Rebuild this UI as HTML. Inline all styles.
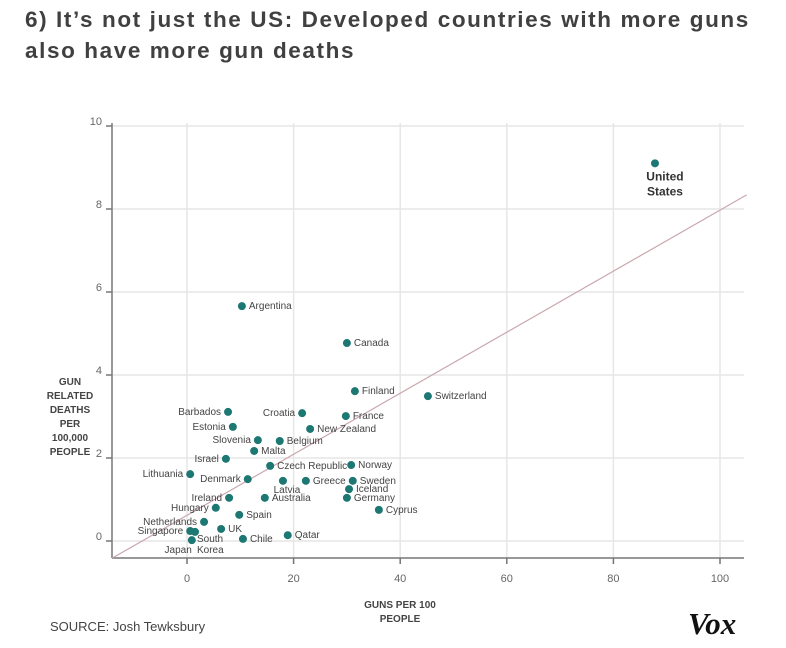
<!DOCTYPE html>
<html><head><meta charset="utf-8"><style>
body{margin:0;background:#fff;width:786px;height:648px;overflow:hidden;font-family:"Liberation Sans",sans-serif}
h1{position:absolute;left:25px;top:4px;margin:0;font-size:22.5px;letter-spacing:1.6px;line-height:31px;color:#404040;font-weight:bold;white-space:nowrap}
svg{position:absolute;left:0;top:0}
</style></head><body>
<h1>6) It’s not just the US: Developed countries with more guns<br>also have more gun deaths</h1>
<svg id="chart" width="786" height="648"></svg>
<script>
const countries=["United States","Argentina","Canada","Finland","Switzerland","Barbados","Croatia","France","Estonia","New Zealand","Slovenia","Belgium","Malta","Israel","Czech Republic","Norway","Lithuania","Denmark","Latvia","Greece","Sweden","Iceland","Ireland","Australia","Germany","Cyprus","Hungary","Spain","Netherlands","UK","Singapore","South Korea","Chile","Qatar","Japan"];
const guns=[87.8,10.3,30.0,31.5,45.2,7.7,21.6,29.8,8.6,23.1,13.3,17.4,12.6,7.3,15.6,30.8,0.6,11.4,18.0,22.3,31.1,30.4,7.9,14.6,30.0,36.0,5.4,9.8,3.2,6.4,0.6,1.5,10.5,18.9,0.9];
const deaths=[9.1,5.66,4.77,3.61,3.49,3.11,3.08,3.01,2.75,2.70,2.43,2.41,2.17,1.98,1.81,1.83,1.61,1.49,1.45,1.45,1.45,1.25,1.04,1.04,1.04,0.75,0.80,0.63,0.46,0.29,0.24,0.22,0.05,0.14,0.02];
const labelSide=["c","r","r","r","r","l","l","r","l","r","l","r","r","l","r","r","l","l","b","r","r","r","l","r","r","r","l","r","l","r","l","rs","r","r","lb"];
const xTicks=[0,20,40,60,80,100];
const yTicks=[0,2,4,6,8,10];
const trendLine=[[-14,-0.41],[105,8.34]];

const NS="http://www.w3.org/2000/svg";
const svg=document.getElementById('chart');
const X=v=>187+v*5.33, Y=v=>541-v*41.5;
function mk(t,a,txt){const e=document.createElementNS(NS,t);for(const k in a)e.setAttribute(k,a[k]);if(txt!==undefined)e.textContent=txt;svg.appendChild(e);return e;}
const L=112,R=744,T=123,B=558;
xTicks.forEach(v=>{
 const g=mk('line',{x1:X(v),x2:X(v),y1:T,y2:B+6,stroke:'#e6e6e6','stroke-width':1.5});
 
 const tk=mk('line',{x1:X(v),x2:X(v),y1:B,y2:B+6,stroke:'#777','stroke-width':1.5});
 
 const t=mk('text',{x:X(v),y:B+24,'text-anchor':'middle','font-size':11,fill:'#666'},v);
 
});
yTicks.forEach(v=>{
 const g=mk('line',{x1:L,x2:R,y1:Y(v),y2:Y(v),stroke:'#e6e6e6','stroke-width':1.5});
 
 const tk=mk('line',{x1:L-6,x2:L,y1:Y(v),y2:Y(v),stroke:'#777','stroke-width':1.5});
 
 const t=mk('text',{x:L-10,y:Y(v)-1,'text-anchor':'end','font-size':11,fill:'#666'},v);
 
});
const ax1=mk('line',{x1:L,x2:L,y1:T,y2:B,stroke:'#777','stroke-width':1.5});

const ax2=mk('line',{x1:L,x2:R,y1:B,y2:B,stroke:'#777','stroke-width':1.5});

const tl=mk('line',{x1:X(trendLine[0][0]),y1:Y(trendLine[0][1]),x2:X(trendLine[1][0]),y2:Y(trendLine[1][1]),stroke:'#c9a7ad','stroke-width':1.2});

countries.forEach((c,i)=>{
 const cx=X(guns[i]),cy=Y(deaths[i]);
 const d=mk('circle',{cx,cy,r:4,fill:'#1d7772'});
 
 
 const s=labelSide[i];let t;
 if(s==='c'){
  t=mk('text',{x:cx+10,y:cy+17,'text-anchor':'middle','font-size':12,'font-weight':'bold',fill:'#333'});
  t.innerHTML='<tspan x="'+(cx+10)+'">United</tspan><tspan x="'+(cx+10)+'" dy="15">States</tspan>';
 } else if(s==='rs'){
  t=mk('text',{x:cx+2,y:cy+10,'font-size':10,fill:'#444'});
  t.innerHTML='<tspan x="'+(cx+2)+'">South</tspan><tspan x="'+(cx+2)+'" dy="11">Korea</tspan>';
 } else if(s==='b'){
  t=mk('text',{x:cx+4,y:cy+12,'text-anchor':'middle','font-size':10,fill:'#444'},c);
 } else if(s==='lb'){
  t=mk('text',{x:cx,y:cy+13,'text-anchor':'end','font-size':10,fill:'#444'},c);
 } else if(s==='l'){
  t=mk('text',{x:cx-7,y:cy+3,'text-anchor':'end','font-size':10,fill:'#444'},c);
 } else {
  t=mk('text',{x:cx+7,y:cy+3,'font-size':10,fill:'#444'},c);
 }
 
 
});
const yt=mk('text',{x:70,y:385,'text-anchor':'middle','font-size':10,'font-weight':'bold',fill:'#444'});
yt.innerHTML=['GUN','RELATED','DEATHS','PER','100,000','PEOPLE'].map((w,k)=>'<tspan x="70" dy="'+(k?14:0)+'">'+w+'</tspan>').join('');

const xt=mk('text',{x:400,y:608,'text-anchor':'middle','font-size':10,'font-weight':'bold',fill:'#444'});
xt.innerHTML='<tspan x="400">GUNS PER 100</tspan><tspan x="400" dy="14">PEOPLE</tspan>';

const src=mk('text',{x:50,y:631,'font-size':13,fill:'#444'},'SOURCE: Josh Tewksbury');

const vox=mk('text',{x:688,y:634,'font-size':31,'font-weight':'bold','font-style':'italic','font-family':'Liberation Serif,serif',fill:'#111'},'Vox');

</script>
</body></html>
